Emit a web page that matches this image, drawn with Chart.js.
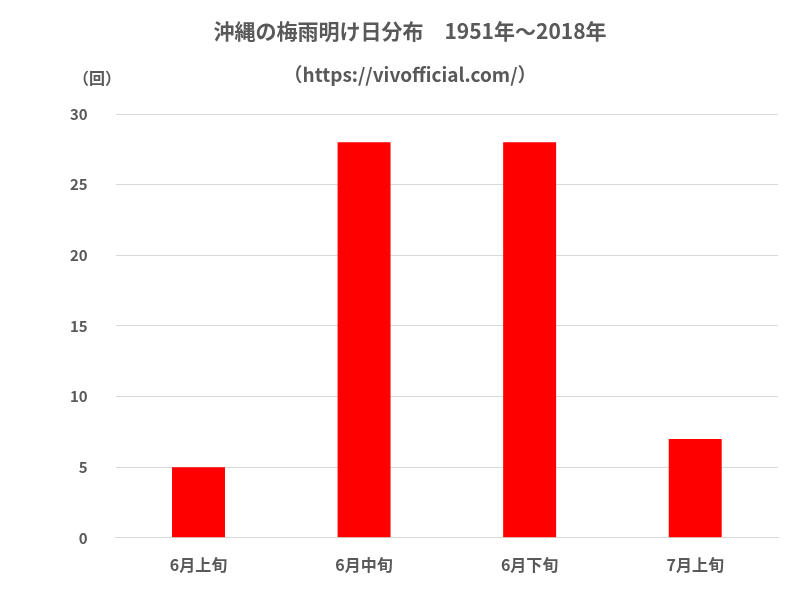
<!DOCTYPE html>
<html>
<head>
<meta charset="utf-8">
<script src="https://cdn.jsdelivr.net/npm/chart.js@4"></script>
<style>
  body { margin: 0; background: #fff; }
  #wrap { width: 794px; height: 593px; }
</style>
</head>
<body>
<div id="wrap"><canvas id="myChart"></canvas></div>
<script>
const labels = ["6月上旬", "6月中旬", "6月下旬", "7月上旬"];
const counts = [5, 28, 28, 7];
const yTicks = [0, 5, 10, 15, 20, 25, 30];

const font = "'Noto Sans CJK JP', 'Noto Sans', sans-serif";
const grey = "#595959";

// the "（回）" unit label above the y axis
const unitLabel = {
  id: "unitLabel",
  afterDraw(chart) {
    const ctx = chart.ctx;
    ctx.save();
    ctx.font = "bold 16px " + font;
    ctx.fillStyle = grey;
    ctx.textAlign = "center";
    ctx.textBaseline = "middle";
    ctx.fillText("（回）", 97, 78);
    ctx.restore();
  },
};

const config = {
  type: "bar",
  data: {
    labels: labels,
    datasets: [
      {
        data: counts,
        backgroundColor: "#ff0000",
        barPercentage: 0.32,
        categoryPercentage: 1,
      },
    ],
  },
  options: {
    responsive: true,
    maintainAspectRatio: false,
    animation: false,
    layout: { padding: { left: 42, right: 16, top: 0, bottom: 8 } },
    plugins: {
      legend: { display: false },
      tooltip: { enabled: false },
      title: {
        display: true,
        text: "沖縄の梅雨明け日分布　1951年～2018年",
        color: grey,
        font: { family: font, size: 21, weight: "bold" },
        padding: { top: 18, bottom: 20 },
      },
      subtitle: {
        display: true,
        text: "（https://vivofficial.com/）",
        color: grey,
        font: { family: font, size: 19, weight: "bold" },
        padding: { bottom: 28 },
      },
    },
    scales: {
      y: {
        min: 0,
        max: 30,
        afterBuildTicks: (axis) => {
          axis.ticks = yTicks.map((v) => ({ value: v }));
        },
        grid: { color: "#d9d9d9", drawTicks: false },
        border: { display: false },
        ticks: {
          color: grey,
          padding: 28,
          font: { family: font, size: 15, weight: "bold" },
        },
      },
      x: {
        grid: { display: false },
        border: { color: "#d9d9d9" },
        ticks: {
          color: grey,
          padding: 10,
          font: { family: font, size: 16, weight: "bold" },
        },
      },
    },
  },
  plugins: [unitLabel],
};
let myChart = new Chart(document.getElementById("myChart"), config);
</script>
</body>
</html>
